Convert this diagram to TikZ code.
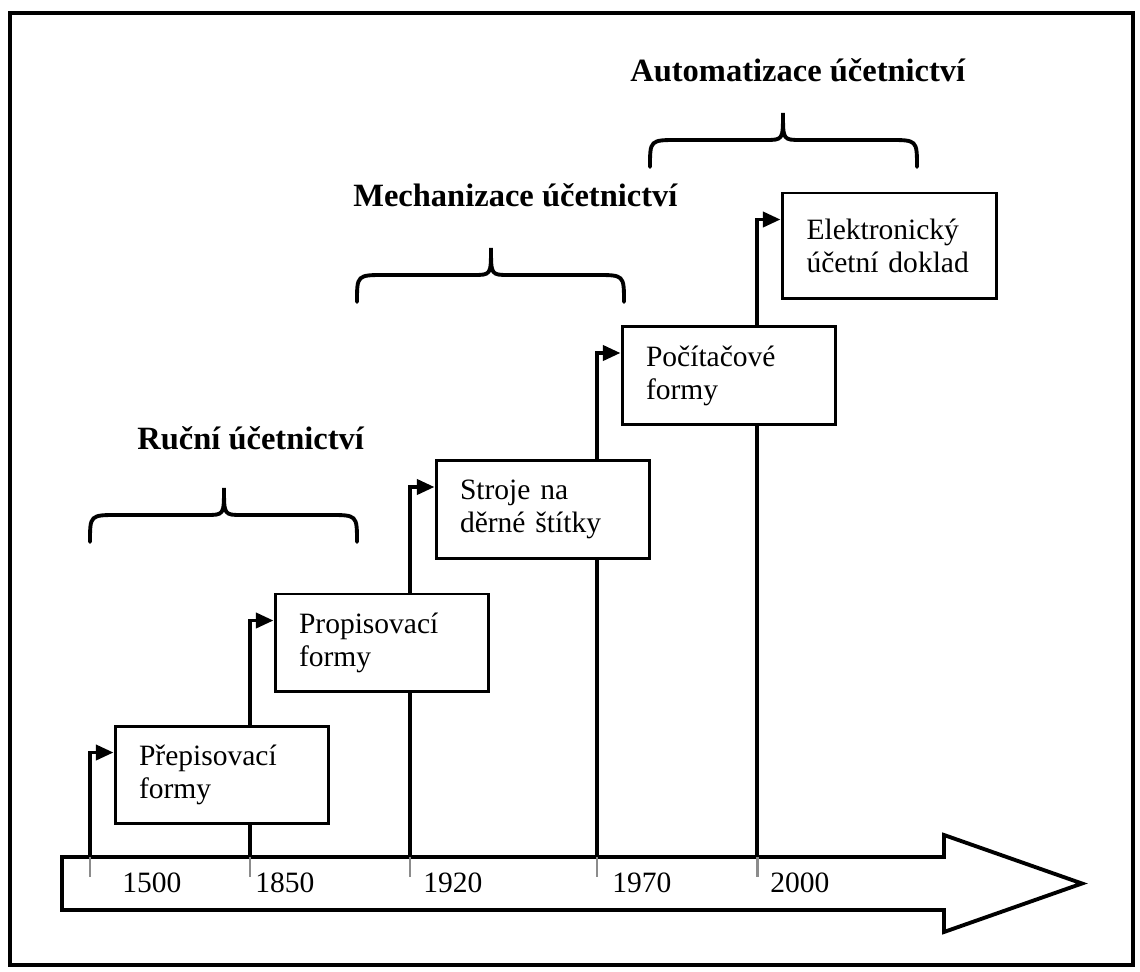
\documentclass[tikz,border=0pt]{standalone}
\usepackage{fontspec}
\setmainfont{Liberation Serif}
\usetikzlibrary{arrows.meta,calc,backgrounds}
\begin{document}
\begin{tikzpicture}[x=0.02cm,y=-0.02cm,
    box/.style={draw,fill=white,line width=1.7pt,minimum width=4.28cm,minimum height=1.96cm,
      text width=3.32cm,inner xsep=0.48cm,align=left,font=\fontsize{16.8}{18.8}\selectfont},
    conn/.style={line width=2.2pt,-{Triangle[length=10pt,width=8.5pt]}},
    brace/.style={line width=2.2pt,line cap=round},
    title/.style={anchor=base west,inner sep=0pt,font=\fontsize{18.5}{20}\selectfont\bfseries},
    year/.style={anchor=base west,inner sep=0pt,font=\fontsize{16.8}{18.8}\selectfont}]
  % colors
  \definecolor{kGrey}{rgb}{0.55,0.55,0.55}
  \useasboundingbox (0,0) rectangle (1140,972);
  % frame
  \draw[line width=2.3pt] (10,13) rectangle (1133,965);
  % time axis
  \draw[line width=2.2pt,line join=miter] (62,857) -- (944,857) -- (944,835) -- (1082,883.5)
    -- (944,932) -- (944,910) -- (62,910) -- cycle;
  \foreach \t/\x in {1500/90, 1850/250, 1920/410, 1970/597, 2000/757} {
    \coordinate (t\t) at (\x,857);
    \draw[kGrey,line width=1.7pt] (\x,857) -- (\x,877);
  }
  \node[year] (y1500) at (122,893) {1500};
  \node[year] (y1850) at (255,893) {1850};
  \node[year] (y1920) at (423,893) {1920};
  \node[year] (y1970) at (612,893) {1970};
  \node[year] (y2000) at (770,893) {2000};
  % boxes
  \node[box] (box1) at (222,775) {Přepisovací\\formy};
  \node[box] (box2) at (382,643) {Propisovací\\formy};
  \node[box] (box3) at (543,509.5) {Stroje na\\děrné štítky};
  \node[box] (box4) at (729,375.5) {Počítačové\\formy};
  \node[box,minimum width=4.3cm,minimum height=2.12cm] (box5) at (889.5,246) {Elektronický\\účetní doklad};
  \begin{pgfonlayer}{background}
    \foreach \t/\b in {t1500/box1, t1850/box2, t1920/box3, t1970/box4, t2000/box5}
      \draw[conn] (\t) |- ($(\b.north west)+(0,28)$);
  \end{pgfonlayer}
  % periods
  \node[title] (manual) at (137,450) {Ruční účetnictví};
  \node[title] (mechanic) at (353,207) {Mechanizace účetnictví};
  \node[title] (automatic) at (630,82) {Automatizace účetnictví};
  \foreach \xa/\xm/\xb/\yt in {90/224/357/488, 357/491/624/248, 650/783/917/113}
    \draw[brace] (\xa,\yt+54) .. controls (\xa,\yt+27) .. (\xa+28,\yt+27) -- (\xm-18,\yt+27)
      .. controls (\xm,\yt+27) .. (\xm,\yt) .. controls (\xm,\yt+27) .. (\xm+18,\yt+27)
      -- (\xb-28,\yt+27) .. controls (\xb,\yt+27) .. (\xb,\yt+54);
\end{tikzpicture}
\end{document}
